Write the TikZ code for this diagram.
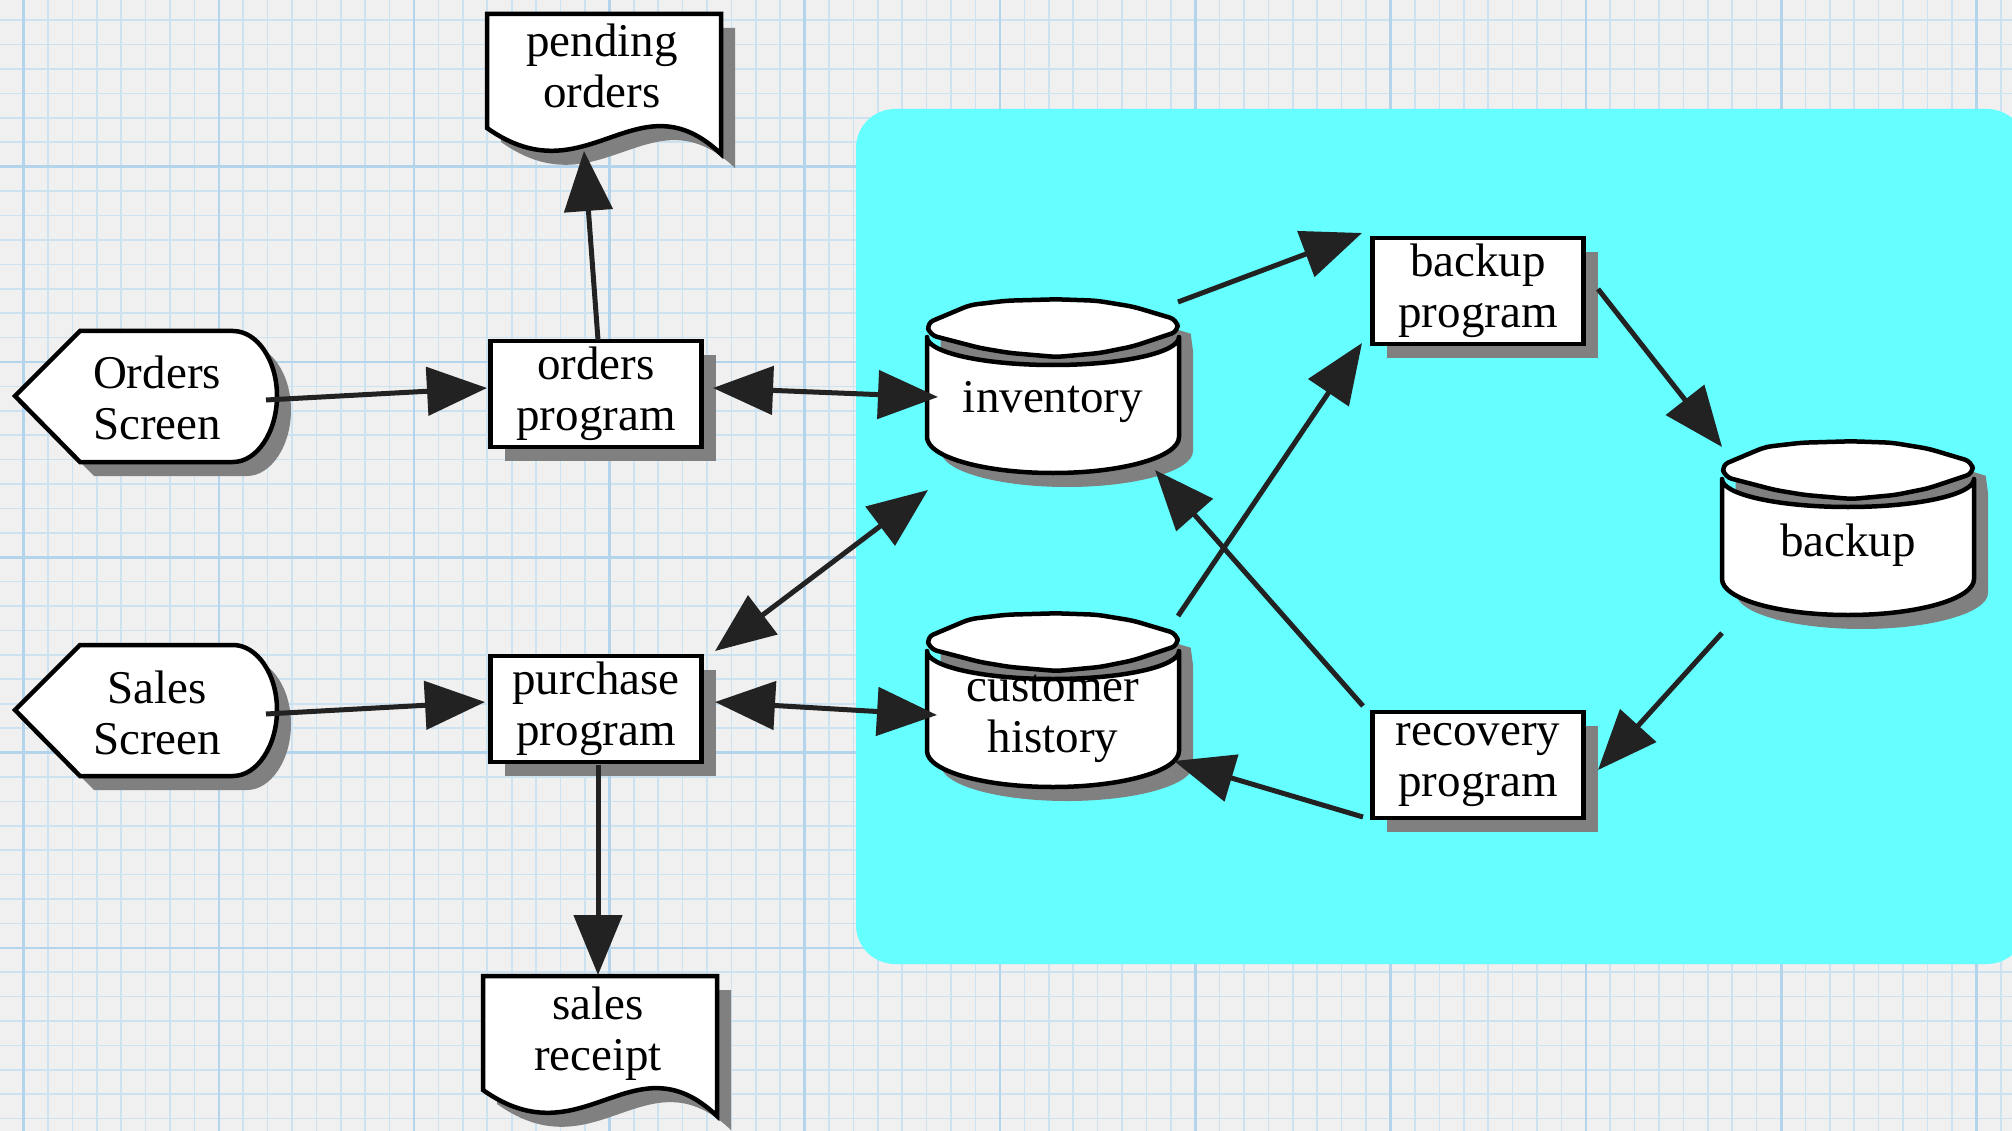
\documentclass[tikz,border=0pt]{standalone}
\usepackage{fontspec}
\setmainfont{Liberation Serif}
\usetikzlibrary{arrows.meta,shadows}

\definecolor{paper}{HTML}{F0F0F0}
\definecolor{gridminor}{HTML}{CDE2F1}
\definecolor{gridmajor}{HTML}{B4D4EC}
\definecolor{panel}{HTML}{66FFFF}
\definecolor{shadowgray}{HTML}{808080}
\definecolor{ink}{HTML}{222222}

\tikzset{
  outline/.style={draw=black, line width=4.5pt, fill=white},
  txt/.style={inner sep=0pt, align=center, font=\fontsize{47}{51}\selectfont, text=black},
  proc/.style={outline, line join=miter, txt, minimum width=211pt, minimum height=106pt,
    drop shadow={shadow xshift=14pt, shadow yshift=-14pt, opacity=1, fill=shadowgray}},
  flow/.style={draw=ink, line width=5pt, -{Triangle[length=60pt,width=48pt]}},
  twoway/.style={draw=ink, line width=5pt,
    {Triangle[length=60pt,width=48pt]}-{Triangle[length=60pt,width=48pt]}},
  % data store: origin at the centre of the lid
  pics/store/.style={code={
    \fill[shadowgray, shift={(14,14)}]
      (-126.3,-5.7) -- (-83,-24) -- (-46.3,-28.3) -- (3.7,-29.7) -- (43.7,-28.3)
      -- (80.3,-22.3) -- (123.7,-9.3) -- (126,8) -- (126,108)
      arc[start angle=0, end angle=180, x radius=126, y radius=36] -- cycle;
    \path[outline, line join=round]
      (-126,8) -- (-126,108)
      arc[start angle=180, end angle=0, x radius=126, y radius=36] -- (126,8)
      arc[start angle=0, end angle=180, x radius=126, y radius=28] -- cycle;
    \path[outline, line join=round, rounded corners=7pt]
      (-126.3,-5.7) -- (-83,-24) -- (-46.3,-28.3) -- (3.7,-29.7) -- (43.7,-28.3)
      -- (80.3,-22.3) -- (123.7,-9.3) -- (125.3,2.3) -- (80.3,17.3) -- (47,24)
      -- (3.7,28) -- (-43,24) -- (-73,19) -- (-123,6) -- cycle;
  }},
  % printed document: origin at the top-left corner
  pics/docshape/.style={code={
    \fill[shadowgray, shift={(14,14)}]
      (0,0) -- (234,0) -- (234,140) .. controls (150,60) and (100,185) .. (0,114) -- cycle;
    \path[outline, line join=miter]
      (0,0) -- (234,0) -- (234,140) .. controls (150,60) and (100,185) .. (0,114) -- cycle;
  }},
  % display: origin at the left point
  pics/dispshape/.style={code={
    \fill[shadowgray, shift={(14,14)}]
      (0,0) -- (65,-65) -- (218,-65) .. controls (242,-65) and (262,-36) .. (262,0)
      .. controls (262,36) and (242,66) .. (218,66) -- (65,66) -- cycle;
    \path[outline, line join=miter]
      (0,0) -- (65,-65) -- (218,-65) .. controls (242,-65) and (262,-36) .. (262,0)
      .. controls (262,36) and (242,66) .. (218,66) -- (65,66) -- cycle;
  }},
}

\begin{document}
\begin{tikzpicture}[x=1pt, y=-1pt]
\useasboundingbox (0,0) rectangle (2012,1131);

% graph paper
\fill[paper] (0,0) rectangle (2012,1131);
\foreach \k in {-1,...,83}
  \draw[gridminor, line width=1.6pt] ({23.5+24.41*\k},0) -- ++(0,1131);
\foreach \k in {0,...,48}
  \draw[gridminor, line width=1.6pt] (0,{-28.6+24.41*\k}) -- ++(2012,0);
\foreach \k in {0,...,10}
  \draw[gridmajor, line width=2.6pt] ({23.5+195.3*\k},0) -- ++(0,1131);
\foreach \k in {1,...,6}
  \draw[gridmajor, line width=2.6pt] (0,{-28.6+195.3*\k}) -- ++(2012,0);

% storage subsystem panel
\fill[panel, rounded corners=39pt] (856,109) rectangle (2026,964);

% outlines
\pic at (487,14) {docshape};
\pic at (483,976) {docshape};
\pic at (15,396) {dispshape};
\pic at (15,710) {dispshape};
\pic at (1053,329) {store};
\pic at (1053,643) {store};
\pic at (1848,471) {store};

% labels and processes
\node[txt] (po) at (602,66) {pending\\orders};
\node[txt] (sr) at (598,1034) {sales\\receipt};
\node[txt] (os) at (157,398) {Orders\\Screen};
\node[txt] (ss) at (157,713) {Sales\\Screen};
\node[proc] (op) at (596,394) {orders\\program};
\node[proc] (pp) at (596,709) {purchase\\program};
\node[proc] (bp) at (1478,291) {backup\\program};
\node[proc] (rp) at (1478,765) {recovery\\program};
\node[txt] (inv) at (1053,402) {inventory};
\node[txt] (ch) at (1053,719) {customer\\history};
\node[txt] (bk) at (1848,545) {backup};

% data flows
\draw[flow] ([shift={(109,2)}]os.center) -- ([shift={(-109,-6)}]op.center);
\draw[flow] ([shift={(2,-54)}]op.center) -- ([shift={(-18,85)}]po.center);
\draw[twoway] ([shift={(117,-6)}]op.center) -- ([shift={(-115,-5)}]inv.center);
\draw[twoway] ([shift={(119,-58)}]pp.center) -- ([shift={(-125,88)}]inv.center);
\draw[flow] ([shift={(109,1)}]ss.center) -- ([shift={(-111,-7)}]pp.center);
\draw[twoway] ([shift={(119,-7)}]pp.center) -- ([shift={(-116,-4)}]ch.center);
\draw[flow] ([shift={(2,56)}]pp.center) -- ([shift={(0,-59)}]sr.center);
\draw[flow] ([shift={(125,-100)}]inv.center) -- ([shift={(-116,-58)}]bp.center);
\draw[flow] ([shift={(125,-103)}]ch.center) -- ([shift={(-116,52)}]bp.center);
\draw[flow] ([shift={(120,-2)}]bp.center) -- ([shift={(-126,-98)}]bk.center);
\draw[flow] ([shift={(-126,88)}]bk.center) -- ([shift={(120,5)}]rp.center);
\draw[flow] ([shift={(-115,-59)}]rp.center) -- ([shift={(102,68)}]inv.center);
\draw[flow] ([shift={(-115,52)}]rp.center) -- ([shift={(121,42)}]ch.center);
\end{tikzpicture}
\end{document}
